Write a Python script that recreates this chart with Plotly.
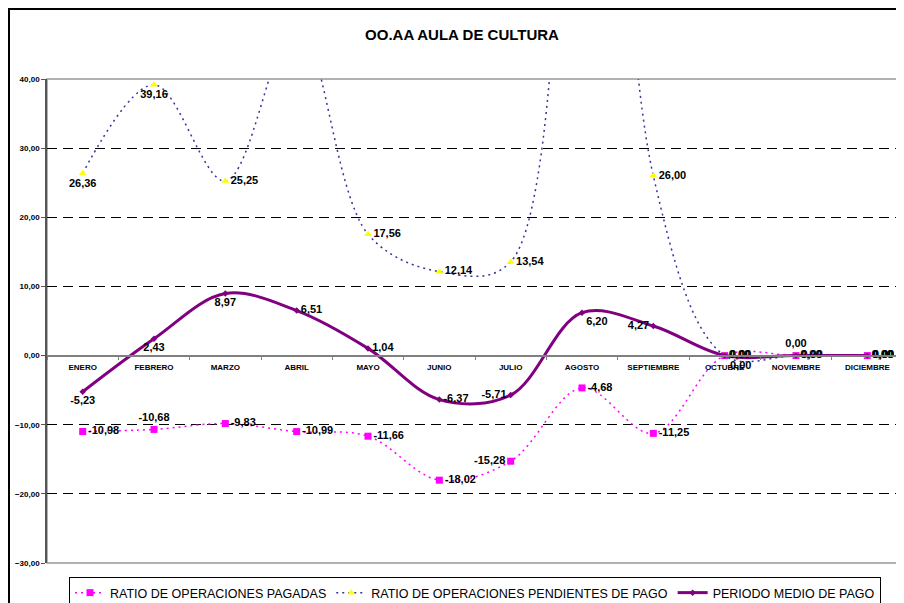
import plotly.graph_objects as go

meses = ["ENERO", "FEBRERO", "MARZO", "ABRIL", "MAYO", "JUNIO", "JULIO",
         "AGOSTO", "SEPTIEMBRE", "OCTUBRE", "NOVIEMBRE", "DICIEMBRE"]
pagadas = [-10.98, -10.68, -9.83, -10.99, -11.66, -18.02, -15.28, -4.68, -11.25, 0.00, 0.00, 0.00]
pendientes = [26.36, 39.16, 25.25, 48.0, 17.56, 12.14, 13.54, 160.0, 26.00, 0.00, 0.00, 0.00]
periodo = [-5.23, 2.43, 8.97, 6.51, 1.04, -6.37, -5.71, 6.20, 4.27, 0.00, 0.00, 0.00]

Y_MIN, Y_MAX = -30, 40

pos_pagadas = ["middle right", "top center", "middle right", "middle right", "middle right",
               "middle right", "middle left", "middle right", "middle right", "bottom right",
               "middle right", "middle right"]
pos_pendientes = ["bottom center", "bottom center", "middle right", "middle right", "middle right",
                  "middle right", "middle right", "middle right", "middle right", "middle right",
                  "top center", "middle right"]
pos_periodo = ["bottom center", "bottom center", "bottom center", "middle right", "middle right",
               "middle right", "middle left", "bottom right", "middle left", "middle right",
               "middle right", "middle right"]


def lab(vals):
    # labels of points outside the visible value range are not shown (as in the reference)
    return [("<b>" + f"{v:.2f}".replace(".", ",") + "</b>") if Y_MIN <= v <= Y_MAX else ""
            for v in vals]


FONT = "Liberation Sans, Arial, sans-serif"
lab_font = dict(family=FONT, size=11, color="black")

fig = go.Figure()
fig.add_trace(go.Scatter(
    x=meses, y=pagadas, name="RATIO DE OPERACIONES PAGADAS",
    mode="lines+markers+text", line=dict(color="#FF00FF", width=1.5, dash="2px,4px", shape="spline"),
    marker=dict(symbol="square", size=7, color="#FF00FF"),
    text=lab(pagadas), textposition=pos_pagadas, textfont=lab_font))
fig.add_trace(go.Scatter(
    x=meses, y=pendientes, name="RATIO DE OPERACIONES PENDIENTES DE PAGO",
    mode="lines+markers+text", line=dict(color="#333399", width=1.5, dash="2px,4px", shape="spline"),
    marker=dict(symbol="triangle-up", size=7, color="#FFFF00"),
    text=lab(pendientes), textposition=pos_pendientes, textfont=lab_font))
fig.add_trace(go.Scatter(
    x=meses, y=periodo, name="PERIODO MEDIO DE PAGO",
    mode="lines+markers+text", line=dict(color="#800080", width=3, shape="spline"),
    marker=dict(symbol="diamond", size=5, color="#800080"),
    text=lab(periodo), textposition=pos_periodo, textfont=lab_font))

# the page body adds an 8px offset; layout is expressed in screen pixels minus that offset
OFF = 8
W, H = 904, 603
L, R, T, B = 47 - OFF, 903 - OFF, 79 - OFF, 563 - OFF
pw, ph = R - L, B - T


def px_x(x):
    return (x - OFF - L) / pw


def px_y(y):
    return (B - (y - OFF)) / ph


fig.update_layout(
    width=W, height=H,
    margin=dict(l=L, r=W - R, t=T, b=H - B, autoexpand=False),
    paper_bgcolor="white", plot_bgcolor="white",
    separators=",.",
    font=dict(family=FONT, color="black"),
    title=dict(text="<b>OO.AA AULA DE CULTURA</b>", x=(462 - OFF) / W, xref="container",
               xanchor="center", y=1 - (35 - OFF) / H, yref="container", yanchor="middle",
               font=dict(family=FONT, size=15, color="black")),
    showlegend=True,
    legend=dict(orientation="h", x=px_x(475), xanchor="center", y=1 - (577 - OFF) / H,
                yref="container", yanchor="top", bordercolor="black", borderwidth=1,
                font=dict(family=FONT, size=12.5, color="black"),
                bgcolor="white", itemwidth=30, tracegroupgap=0),
    xaxis=dict(type="category", anchor="free", position=(0 - Y_MIN) / (Y_MAX - Y_MIN), showline=True,
               linecolor="#808080", linewidth=1.5, ticks="outside", tickson="boundaries", ticklen=4,
               tickcolor="#808080", showgrid=False, automargin=False, ticklabelstandoff=4,
               tickfont=dict(family=FONT, size=8, color="black"),
               tickprefix="<b>", ticksuffix="</b>", range=[-0.5, 11.5], fixedrange=True),
    yaxis=dict(range=[Y_MIN, Y_MAX], dtick=10, tickformat=".2f", showline=True, linecolor="#555555",
               linewidth=1.5, ticks="outside", ticklen=4, tickcolor="#555555", automargin=False,
               gridcolor="black", griddash="10px,6px", gridwidth=1, zeroline=False,
               tickfont=dict(family=FONT, size=8, color="black"),
               tickprefix="<b>", ticksuffix="</b>", fixedrange=True),
    shapes=[
        dict(type="rect", xref="paper", yref="paper", x0=0, x1=1, y0=0, y1=1,
             line=dict(color="#999999", width=1.5), layer="below"),
        dict(type="line", xref="paper", yref="paper", x0=px_x(9), x1=px_x(9), y0=px_y(9),
             y1=px_y(620), line=dict(color="black", width=2)),
        dict(type="line", xref="paper", yref="paper", x0=px_x(8), x1=px_x(920), y0=px_y(9),
             y1=px_y(9), line=dict(color="black", width=2)),
    ],
)

fig.write_html("out.html")
